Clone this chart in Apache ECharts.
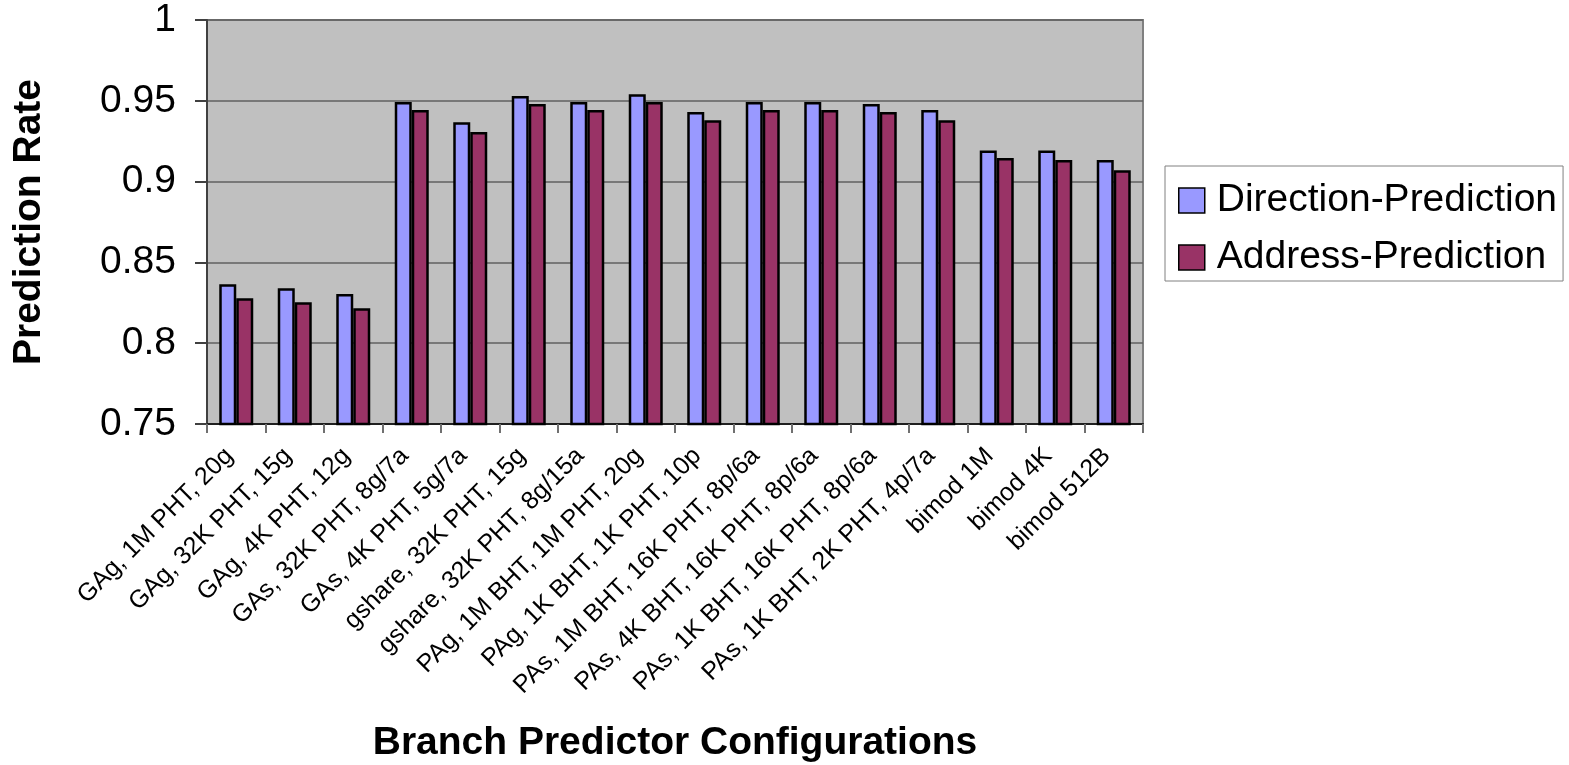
<!DOCTYPE html>
<html>
<head>
<meta charset="utf-8">
<script src="https://cdn.jsdelivr.net/npm/echarts@6/dist/echarts.min.js"></script>
<style>
html,body{margin:0;padding:0;background:#fff;}
#chart{width:1569px;height:765px;}
</style>
</head>
<body>
<div id="chart"></div>
<script>
const categories = [
  "GAg, 1M PHT, 20g",
  "GAg, 32K PHT, 15g",
  "GAg, 4K PHT, 12g",
  "GAs, 32K PHT, 8g/7a",
  "GAs, 4K PHT, 5g/7a",
  "gshare, 32K PHT, 15g",
  "gshare, 32K PHT, 8g/15a",
  "PAg, 1M BHT, 1M PHT, 20g",
  "PAg, 1K BHT, 1K PHT, 10p",
  "PAs, 1M BHT, 16K PHT, 8p/6a",
  "PAs, 4K BHT, 16K PHT, 8p/6a",
  "PAs, 1K BHT, 16K PHT, 8p/6a",
  "PAs, 1K BHT, 2K PHT, 4p/7a",
  "bimod 1M",
  "bimod 4K",
  "bimod 512B"
];
const directionPrediction = [0.8365, 0.834, 0.8304, 0.9492, 0.9367, 0.953, 0.9492, 0.954, 0.943, 0.9492, 0.9492, 0.948, 0.9443, 0.9193, 0.9193, 0.9133];
const addressPrediction   = [0.8278, 0.8254, 0.8217, 0.9443, 0.9307, 0.948, 0.9443, 0.9492, 0.938, 0.9443, 0.9443, 0.943, 0.938, 0.9146, 0.9133, 0.9071];
const seriesNames = ["Direction-Prediction", "Address-Prediction"];
const yTicks = { min: 0.75, max: 1, interval: 0.05 };

const FONT = "'Liberation Sans', Arial, sans-serif";
const chart = echarts.init(document.getElementById('chart'), null, {renderer: 'canvas'});
chart.setOption({
  backgroundColor: '#ffffff',
  animation: false,
  grid: {
    left: 207, right: 426, top: 20, bottom: 341,
    outerBoundsMode: 'none',
    containLabel: false,
    show: true, backgroundColor: '#C0C0C0', borderColor: '#808080', borderWidth: 2
  },
  legend: {
    left: 1165, top: 166,
    orient: 'vertical',
    padding: [15, 6, 4, 13],
    backgroundColor: '#ffffff',
    borderColor: '#808080', borderWidth: 1,
    itemWidth: 26, itemHeight: 25, itemGap: 18,
    icon: 'rect',
    itemStyle: { borderColor: '#000', borderWidth: 1.5 },
    textStyle: { fontFamily: FONT, fontSize: 39, color: '#000', padding: [0, 0, 0, 7] },
    data: seriesNames
  },
  xAxis: {
    type: 'category',
    data: categories,
    name: 'Branch Predictor Configurations',
    nameLocation: 'middle',
    nameGap: 300,
    nameTextStyle: { fontFamily: FONT, fontSize: 39, fontWeight: 'bold', color: '#000' },
    axisLine: { lineStyle: { color: '#202020', width: 2 } },
    axisTick: { show: true, length: 9, lineStyle: { color: '#707070', width: 2 } },
    axisLabel: { interval: 0, rotate: 45, margin: 21, padding: [0, 10, 0, 0], fontFamily: FONT, fontSize: 25, color: '#000' }
  },
  yAxis: {
    type: 'value',
    min: yTicks.min, max: yTicks.max, interval: yTicks.interval,
    name: 'Prediction Rate',
    nameLocation: 'middle',
    nameGap: 158,
    nameTextStyle: { fontFamily: FONT, fontSize: 39, fontWeight: 'bold', color: '#000' },
    axisLine: { show: true, lineStyle: { color: '#404040', width: 2 } },
    axisTick: { show: true, length: 12, lineStyle: { color: '#404040', width: 2 } },
    axisLabel: {
      margin: 31, fontFamily: FONT, fontSize: 39, color: '#000',
      formatter: v => String(parseFloat(v.toFixed(2)))
    },
    splitLine: { lineStyle: { color: '#606060', width: 1.5 } }
  },
  series: [
    {
      name: seriesNames[0], type: 'bar', data: directionPrediction,
      barWidth: 17, barGap: '0%',
      itemStyle: { color: '#9999FF', borderColor: '#000', borderWidth: 2.5 }
    },
    {
      name: seriesNames[1], type: 'bar', data: addressPrediction,
      barWidth: 17, barGap: '0%',
      itemStyle: { color: '#993366', borderColor: '#000', borderWidth: 2.5 }
    }
  ]
});
</script>
</body>
</html>
